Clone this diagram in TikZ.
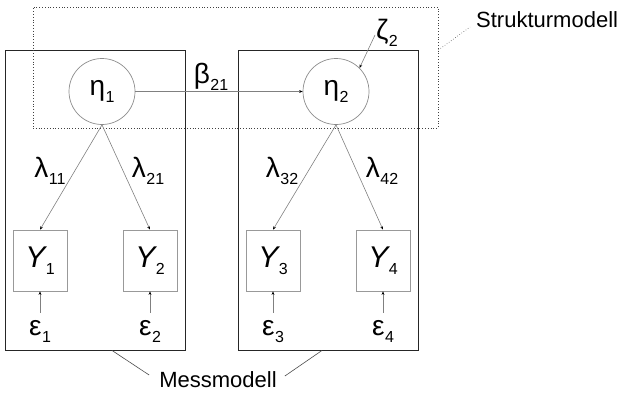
\documentclass[tikz,border=0pt]{standalone}
\usepackage{fontspec}
\setmainfont{Liberation Sans}
\usetikzlibrary{arrows.meta}
\newcommand{\mysubs}[1]{\raisebox{-7pt}{\fontsize{16}{16}\selectfont #1}}
\newcommand{\sym}[2]{{\fontsize{28}{28}\selectfont #1}\kern0.5pt\mysubs{#2}}
\newcommand{\ysym}[1]{{\fontsize{30}{30}\selectfont\itshape Y}\kern0.5pt\mysubs{#1}}
\begin{document}
\begin{tikzpicture}[x=1pt,y=-1pt,
  mbox/.style={draw=black!85, line width=0.9pt, inner sep=0pt},
  sbox/.style={draw=black!75, dotted, line width=0.8pt, inner sep=0pt},
  latent/.style={circle, draw=black!45, line width=0.7pt, minimum size=66pt, inner sep=0pt},
  manifest/.style={rectangle, draw=black!40, line width=0.7pt, minimum width=54pt, minimum height=61pt, inner sep=0pt},
  lab/.style={inner sep=0pt},
  txt/.style={inner sep=0pt, font=\fontsize{22}{22}\selectfont},
  path/.style={draw=black!50, line width=0.6pt, -{Stealth[length=3.5pt,width=2.8pt,black]}},
  lead/.style={draw=black!70, line width=0.6pt},
]
\useasboundingbox (0,0) rectangle (628,396);
% boxes
\node[mbox, minimum width=180pt, minimum height=300pt] (L) at (95,200) {};
\node[mbox, minimum width=180pt, minimum height=300pt] (R) at (328,200) {};
\node[sbox, minimum width=405pt, minimum height=121pt] (S) at (235.5,67.5) {};
% latent
\node[latent] (e1) at (102,91.5) {\sym{η}{1}};
\node[latent] (e2) at (336,91.5) {\sym{η}{2}};
% manifest
\node[manifest] (Y1) at (40,260.5) {\ysym{1}};
\node[manifest] (Y2) at (150,260.5) {\ysym{2}};
\node[manifest] (Y3) at (273,260.5) {\ysym{3}};
\node[manifest] (Y4) at (383,260.5) {\ysym{4}};
% errors
\node[lab, anchor=base, text height=22pt] (d1) at (40,335) {\sym{ε}{1}};
\node[lab, anchor=base, text height=22pt] (d2) at (150,335) {\sym{ε}{2}};
\node[lab, anchor=base, text height=22pt] (d3) at (273,335) {\sym{ε}{3}};
\node[lab, anchor=base, text height=22pt] (d4) at (383,335) {\sym{ε}{4}};
\node[lab, anchor=base] (z2) at (387,40) {\sym{ζ}{2}};
% coefficient labels
\node[lab, anchor=base] (b21) at (211,83) {\sym{β}{21}};
\node[lab, anchor=base] (l11) at (50,177) {\sym{λ}{11}};
\node[lab, anchor=base] (l21) at (148,177) {\sym{λ}{21}};
\node[lab, anchor=base] (l32) at (282,177) {\sym{λ}{32}};
\node[lab, anchor=base] (l42) at (382,177) {\sym{λ}{42}};
% text labels
\node[txt, anchor=base west] (SM) at (476,28) {Strukturmodell};
\node[txt, anchor=base] (MM) at (218,387) {Messmodell};
% paths
\draw[path] (e1) -- (e2);
\draw[path] (e1.south) -- (Y1.north);
\draw[path] (e1.south) -- (Y2.north);
\draw[path] (e2.south) -- (Y3.north);
\draw[path] (e2.south) -- (Y4.north);
\draw[path] (d1.north) -- (Y1.south);
\draw[path] (d2.north) -- (Y2.south);
\draw[path] (d3.north) -- (Y3.south);
\draw[path] (d4.north) -- (Y4.south);
\draw[path] ([xshift=-12pt,yshift=5pt]z2.base) -- (e2.north east);
% leaders
\draw[lead, dotted] ([yshift=17.5pt]S.east) -- ([xshift=-6pt,yshift=1pt]SM.base west);
\draw[lead] ([xshift=17pt]L.south) -- ([xshift=-10pt,yshift=12pt]MM.base west);
\draw[lead] ([xshift=-6pt]R.south) -- ([xshift=8pt,yshift=11pt]MM.base east);
\end{tikzpicture}
\end{document}
